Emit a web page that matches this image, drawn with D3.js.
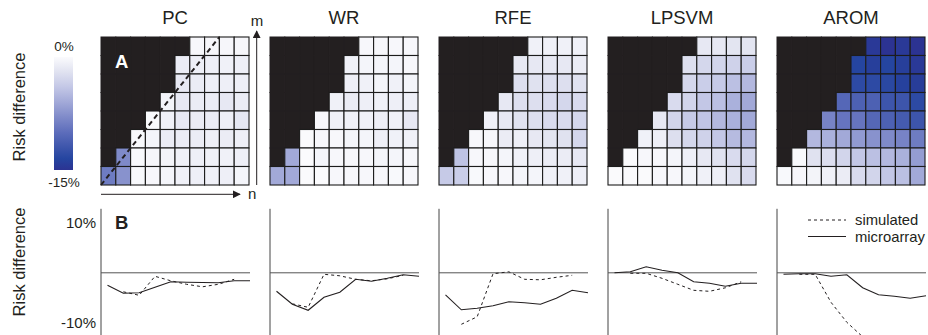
<!DOCTYPE html>
<html>
<head>
<meta charset="utf-8">
<script src="https://cdn.jsdelivr.net/npm/d3@7"></script>
<style>
  body { margin: 0; background: #fff; }
  svg { display: block; font-family: "Liberation Sans", Arial, sans-serif; }
</style>
</head>
<body>
<svg id="chart" width="928" height="335"></svg>
<script>
// ---- data ----
const methods = ["PC", "WR", "RFE", "LPSVM", "AROM"];
const nCols = [1, 2, 3, 4, 5, 6, 7, 8, 9, 10];
const mRows = [8, 7, 6, 5, 4, 3, 2, 1];          // top row first
const B = null;                                  // black (not evaluated) cell

// risk difference (%) per cell, rows top -> bottom, cols n=1..10
const pcGrid = [
  [B, B, B, B, B, B, -0.3, -0.4, -0.4, -0.4],
  [B, B, B, B, B, -1.2, -1.0, -1.0, -0.8, -1.0],
  [B, B, B, B, B, -1.5, -1.2, -1.0, -1.0, -1.0],
  [B, B, B, B, -0.6, -1.5, -1.2, -1.2, -1.5, -1.2],
  [B, B, B, -0.2, -0.8, -1.5, -1.2, -1.2, -1.0, -1.6],
  [B, B, -0.2, -0.5, -1.2, -1.2, -1.2, -1.0, -1.2, -1.0],
  [B, -8.0, -0.2, -0.4, -0.6, -0.8, -1.0, -0.8, -0.8, -1.0],
  [-9.0, -7.5, -0.2, -0.3, -0.5, -0.8, -1.0, -0.8, -1.0, -0.5]
];
const wrGrid = [
  [B, B, B, B, B, B, -0.3, -0.3, -0.3, -0.3],
  [B, B, B, B, B, -0.8, -0.5, -0.5, -0.5, -0.3],
  [B, B, B, B, B, -1.0, -0.8, -0.5, -0.8, -0.5],
  [B, B, B, B, -0.8, -1.2, -1.0, -0.8, -1.0, -1.0],
  [B, B, B, -0.3, -0.8, -0.8, -0.8, -1.0, -0.8, -1.5],
  [B, B, -0.1, -0.3, -0.3, -0.5, -0.5, -1.0, -0.8, -0.8],
  [B, -6.0, 0.0, -0.5, -0.3, -0.3, -0.3, -0.5, -0.5, -0.3],
  [-6.0, -6.0, -0.1, 0.0, -0.3, -0.3, -0.3, -0.3, -0.2, -0.3]
];
const rfeGrid = [
  [B, B, B, B, B, B, -0.8, -0.8, -0.8, -0.8],
  [B, B, B, B, B, -1.5, -1.5, -1.5, -1.5, -1.2],
  [B, B, B, B, B, -2.2, -2.0, -2.2, -2.2, -2.0],
  [B, B, B, B, -1.5, -2.2, -2.2, -2.5, -2.8, -2.5],
  [B, B, B, -0.8, -1.5, -2.0, -2.2, -2.5, -2.5, -2.8],
  [B, B, -0.3, -0.3, -1.2, -1.0, -1.5, -1.8, -2.0, -2.8],
  [B, -4.3, -0.3, -0.3, -0.5, -0.8, -1.0, -1.2, -1.2, -1.5],
  [-3.8, -3.5, -0.2, -0.3, -0.3, -0.5, -0.5, -0.8, -0.8, -1.0]
];
const lpsvmGrid = [
  [B, B, B, B, B, B, -1.5, -1.5, -1.8, -1.8],
  [B, B, B, B, B, -2.2, -2.8, -3.0, -3.2, -3.5],
  [B, B, B, B, B, -2.8, -3.5, -3.8, -4.5, -5.0],
  [B, B, B, B, -2.5, -3.0, -4.0, -4.5, -5.5, -6.0],
  [B, B, B, -1.5, -3.0, -3.8, -4.2, -5.0, -5.5, -6.0],
  [B, B, -0.8, -1.0, -2.2, -2.8, -3.2, -4.0, -4.8, -5.0],
  [B, -0.1, -0.3, -0.3, -0.5, -1.0, -1.5, -2.0, -2.5, -2.8],
  [-0.1, -0.1, -0.1, -0.3, -0.3, -0.5, -0.8, -1.0, -2.0, -2.5]
];
const aromGrid = [
  [B, B, B, B, B, B, -14.5, -15, -14.5, -15],
  [B, B, B, B, B, -13.5, -14, -13.5, -14, -14.5],
  [B, B, B, B, B, -13, -13, -13.2, -13.8, -14.2],
  [B, B, B, B, -10.5, -11, -11, -12, -12, -13],
  [B, B, B, -8.5, -9.5, -9.5, -10.5, -11, -11.5, -12],
  [B, B, -5, -5.5, -6, -7, -7.5, -8, -8.5, -9],
  [B, -0.2, -2, -2.3, -3, -4, -4.5, -5, -5.5, -6.8],
  [-0.2, -0.3, -0.6, -0.8, -1.2, -2.5, -3, -4, -4.5, -6]
];
const grids = [pcGrid, wrGrid, rfeGrid, lpsvmGrid, aromGrid];

// panel B: risk difference (%) vs n
const microN = [1, 2, 3, 4, 5, 6, 7, 8, 9, 10];
const simN = [2, 3, 4, 5, 6, 7, 8, 9];
const pcMicro    = [-2.5, -4.1, -4.0, -2.9, -1.8, -1.9, -1.95, -2.0, -1.6, -1.6];
const pcSim      = [-3.8, -4.5, -0.7, -1.6, -2.3, -2.8, -2.3, -1.3];
const wrMicro    = [-3.7, -6.3, -7.5, -4.9, -3.9, -1.3, -1.7, -1.1, -0.4, -0.7];
const wrSim      = [-6.2, -6.9, -0.3, -0.6, -1.3, -1.6, -1.2, -0.5];
const rfeMicro   = [-4.4, -7.4, -7.1, -6.6, -5.8, -6.0, -6.3, -5.1, -3.5, -4.0];
const rfeSim     = [-10.3, -8.8, -0.2, 0.2, -1.3, -1.4, -0.9, -0.5];
const lpsvmMicro = [0.0, 0.2, 1.2, 0.5, 0.0, -1.8, -2.1, -2.7, -2.1, -2.1];
const lpsvmSim   = [-0.1, -0.1, -1.1, -2.3, -3.5, -3.7, -3.0, -1.8];
const aromMicro  = [-0.3, -0.2, -0.2, -0.7, -0.4, -3.0, -4.4, -4.7, -5.1, -4.6];
const aromSim    = [-0.3, -0.3, -5.9, -9.9, -12.8, -15, -16.5, -17.5];
const microSeries = [pcMicro, wrMicro, rfeMicro, lpsvmMicro, aromMicro];
const simSeries = [pcSim, wrSim, rfeSim, lpsvmSim, aromSim];

const yTickValues = [10, -10];
const legendLabels = ["simulated", "microarray"];

// ---- layout ----
const svg = d3.select("#chart");
const font = "'Liberation Sans', Arial, sans-serif";
const ink = "#231f20";
const panelLeft = i => 101 + i * 169;
const panelW = 148;
const heatTop = 37, heatBottom = 185;

const colorStops = [0, -2, -4, -6, -8, -10, -12, -13.5, -15];
const colorRange = ["#fbfbfd", "#e0e2f0", "#c3c7e6", "#a2a9d8", "#7f8ac9", "#5d6dbb", "#3d55ab", "#2545a0", "#2c3392"];
const color = d3.scaleLinear().domain(colorStops).range(colorRange).clamp(true);

// color bar
const defs = svg.append("defs");
const grad = defs.append("linearGradient").attr("id", "cbar")
  .attr("x1", 0).attr("y1", 0).attr("x2", 0).attr("y2", 1);
grad.selectAll("stop").data(colorStops).join("stop")
  .attr("offset", d => (-d / 15))
  .attr("stop-color", d => color(d));
svg.append("rect").attr("x", 54).attr("y", 57).attr("width", 19).attr("height", 113)
  .attr("fill", "url(#cbar)");
svg.append("text").attr("x", 64).attr("y", 51).attr("text-anchor", "middle")
  .style("font-size", "13.5px").attr("fill", ink).text("0%");
svg.append("text").attr("x", 64).attr("y", 187).attr("text-anchor", "middle")
  .style("font-size", "13.5px").attr("fill", ink).text("-15%");

svg.append("text").attr("transform", "translate(25,107) rotate(-90)")
  .attr("text-anchor", "middle").style("font-size", "16.5px").attr("fill", ink)
  .text("Risk difference");
svg.append("text").attr("transform", "translate(25,262) rotate(-90)")
  .attr("text-anchor", "middle").style("font-size", "16.5px").attr("fill", ink)
  .text("Risk difference");

// arrow marker
defs.append("marker").attr("id", "arrow").attr("viewBox", "0 0 10 10")
  .attr("refX", 9).attr("refY", 5).attr("markerWidth", 8).attr("markerHeight", 8)
  .attr("markerUnits", "userSpaceOnUse").attr("orient", "auto")
  .append("path").attr("d", "M0,0L10,5L0,10z").attr("fill", ink);

methods.forEach((name, i) => {
  const left = panelLeft(i);
  const x = d3.scaleBand().domain(nCols).range([left, left + panelW]);
  const y = d3.scaleBand().domain(mRows).range([heatTop, heatBottom]);
  const g = svg.append("g");

  svg.append("text").attr("x", left + panelW / 2).attr("y", 23.5)
    .attr("text-anchor", "middle").style("font-size", "18.5px").attr("fill", ink)
    .text(name);

  const cells = [];
  grids[i].forEach((row, r) => row.forEach((v, c) => cells.push({ n: nCols[c], m: mRows[r], v })));

  g.selectAll("rect.blk").data(cells.filter(d => d.v === null)).join("rect")
    .attr("class", "blk")
    .attr("x", d => x(d.n)).attr("y", d => y(d.m))
    .attr("width", x.bandwidth()).attr("height", y.bandwidth())
    .attr("fill", ink).attr("stroke", ink).attr("stroke-width", 1);
  g.selectAll("rect.val").data(cells.filter(d => d.v !== null)).join("rect")
    .attr("class", "val")
    .attr("x", d => x(d.n)).attr("y", d => y(d.m))
    .attr("width", x.bandwidth()).attr("height", y.bandwidth())
    .attr("fill", d => color(d.v)).attr("stroke", "#1c1c1c").attr("stroke-width", 1.1);

  // panel B
  const lx = d3.scaleLinear().domain([1, 10]).range([left + 6.5, left + 149]);
  const ly = d3.scaleLinear().domain([10, -10]).range([222.8, 322.8]);
  const lg = svg.append("g");
  lg.append("line").attr("x1", left).attr("x2", left)
    .attr("y1", ly(12.8)).attr("y2", 340).attr("stroke", "#444").attr("stroke-width", 1);
  lg.append("line").attr("x1", left).attr("x2", left + 149)
    .attr("y1", ly(0)).attr("y2", ly(0)).attr("stroke", "#555").attr("stroke-width", 1);

  const line = d3.line().x(d => lx(d[0])).y(d => ly(d[1]));
  lg.append("path").datum(simN.map((n, k) => [n, simSeries[i][k]]))
    .attr("d", line).attr("fill", "none").attr("stroke", ink)
    .attr("stroke-width", 1).attr("stroke-dasharray", "3,3");
  lg.append("path").datum(microN.map((n, k) => [n, microSeries[i][k]]))
    .attr("d", line).attr("fill", "none").attr("stroke", ink).attr("stroke-width", 1.1);

  if (i === 0) {
    // dashed n = m diagonal
    const dx = d3.scaleLinear().domain([0, 10]).range([left, left + panelW]);
    const dy = d3.scaleLinear().domain([0, 8]).range([heatBottom, heatTop]);
    svg.append("line").attr("x1", dx(0)).attr("y1", dy(0)).attr("x2", dx(8)).attr("y2", dy(8))
      .attr("stroke", ink).attr("stroke-width", 2).attr("stroke-dasharray", "5,3.5");

    svg.append("text").attr("x", left + 14).attr("y", 68)
      .style("font-size", "18.5px").style("font-weight", "bold").attr("fill", "#fff").text("A");
    svg.append("text").attr("x", left + 14).attr("y", 229)
      .style("font-size", "18.5px").style("font-weight", "bold").attr("fill", ink).text("B");

    // m and n arrows
    svg.append("line").attr("x1", 256.7).attr("x2", 256.7).attr("y1", heatBottom).attr("y2", 31)
      .attr("stroke", ink).attr("stroke-width", 1).attr("marker-end", "url(#arrow)");
    svg.append("text").attr("x", 257).attr("y", 26).attr("text-anchor", "middle")
      .style("font-size", "15px").attr("fill", ink).text("m");
    svg.append("line").attr("x1", left).attr("x2", 240).attr("y1", 194.3).attr("y2", 194.3)
      .attr("stroke", ink).attr("stroke-width", 1).attr("marker-end", "url(#arrow)");
    svg.append("text").attr("x", 248).attr("y", 199)
      .style("font-size", "15px").attr("fill", ink).text("n");

    const axis = d3.axisLeft(ly).tickValues(yTickValues).tickSize(0).tickPadding(5)
      .tickFormat(d => d + "%");
    const ag = svg.append("g").attr("transform", `translate(${left},0)`).call(axis);
    ag.select(".domain").remove();
    ag.selectAll("text").style("font-size", "15px").style("font-family", font).attr("fill", ink);
  }

  if (i === 4) {
    const styles = ["3,3", null];
    legendLabels.forEach((lab, k) => {
      const yy = 220 + k * 16.5;
      svg.append("line").attr("x1", left + 31).attr("x2", left + 69).attr("y1", yy).attr("y2", yy)
        .attr("stroke", ink).attr("stroke-width", 1)
        .attr("stroke-dasharray", styles[k]);
      svg.append("text").attr("x", left + 78).attr("y", yy + 5)
        .style("font-size", "14.8px").attr("fill", ink).text(lab);
    });
  }
});
</script>
</body>
</html>
